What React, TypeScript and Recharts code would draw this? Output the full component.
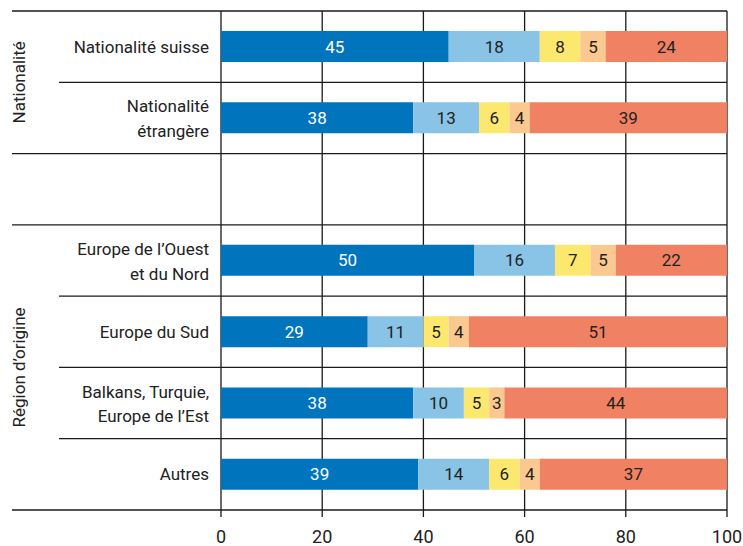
import React from "react";
import { BarChart, Bar, XAxis, YAxis, CartesianGrid, LabelList } from "recharts";

const categories = [
  "Nationalité suisse",
  "Nationalité étrangère",
  "",
  "Europe de l’Ouest et du Nord",
  "Europe du Sud",
  "Balkans, Turquie, Europe de l’Est",
  "Autres",
];
const labelLines: string[][] = [
  ["Nationalité suisse"],
  ["Nationalité", "étrangère"],
  [],
  ["Europe de l’Ouest", "et du Nord"],
  ["Europe du Sud"],
  ["Balkans, Turquie,", "Europe de l’Est "],
  ["Autres"],
];
// group label attached to row whose bottom edge is group centre
const groupLabels = ["Nationalité", "", "", "", "Région d’origine", "", ""];
const groupEnds = [false, true, true, false, false, false, true];
const groupStarts = [true, false, false, false, false, false, false];

const s1 = [45, 38, null, 50, 29, 38, 39];
const s2 = [18, 13, null, 16, 11, 10, 14];
const s3 = [8, 6, null, 7, 5, 5, 6];
const s4 = [5, 4, null, 5, 4, 3, 4];
const s5 = [24, 39, null, 22, 51, 44, 37];
const xTicks = [0, 20, 40, 60, 80, 100];

const colors = ["#0075BE", "#89C3E6", "#FDE86F", "#FBC98F", "#F08263"];
const series = [s1, s2, s3, s4, s5];
const keys = ["a", "b", "c", "d", "e"];

const data = categories.map((name, i) => {
  const row: any = { name: name || "gap" + i };
  keys.forEach((k, j) => {
    row[k] = series[j][i];
  });
  return row;
});

const W = 743;
const H = 546;
const XAXIS_H = 36;
const M = { top: 11, right: 16, bottom: 0, left: 0 };
const FONT = "Roboto, 'DejaVu Sans', sans-serif";
const LINE = "#1a1a1a";

const YTick = (props: any) => {
  const { x, y, payload, index } = props;
  const i = typeof index === "number" ? index : payload.index;
  const half =
    payload && typeof payload.offset === "number" && payload.offset > 0
      ? payload.offset
      : (H - M.top - M.bottom - XAXIS_H) / categories.length / 2;
  const lines = labelLines[i] || [];
  const plotRight = W - M.right;
  const n = lines.length;
  return (
    <g>
      {groupStarts[i] && (
        <line x1={12} x2={plotRight} y1={y - half} y2={y - half} stroke={LINE} strokeWidth={1.3} />
      )}
      <line
        x1={groupEnds[i] ? 12 : 59}
        x2={plotRight}
        y1={y + half}
        y2={y + half}
        stroke={LINE}
        strokeWidth={1.3}
      />
      {lines.map((t, k) => (
        <text
          key={k}
          x={x - 12}
          y={y + (n === 1 ? 0 : k === 0 ? -11.5 : 13)}
          textAnchor="end"
          dominantBaseline="central"
          fontFamily={FONT}
          fontSize={17}
          fill="#222"
        >
          {t}
        </text>
      ))}
      {groupLabels[i] && (
        <text
          x={19}
          y={y + half}
          transform={`rotate(-90 19 ${y + half})`}
          textAnchor="middle"
          dominantBaseline="central"
          fontFamily={FONT}
          fontSize={17}
          fill="#222"
        >
          {groupLabels[i]}
        </text>
      )}
    </g>
  );
};

export default function App() {
  return (
    <div style={{ position: "absolute", left: 0, top: 0, width: W, height: H, background: "#fff" }}>
      <BarChart width={W} height={H} data={data} layout="vertical" margin={M} barSize={31}>
        <CartesianGrid horizontal={false} vertical={true} stroke={LINE} strokeWidth={1.3} />
        <XAxis
          type="number"
          domain={[0, 100]}
          ticks={xTicks}
          height={XAXIS_H}
          axisLine={false}
          tickSize={7}
          tickMargin={13}
          tickLine={{ stroke: LINE, strokeWidth: 1.3 }}
          tick={{ fill: "#222", fontSize: 18, fontFamily: FONT }}
          interval={0}
        />
        <YAxis
          type="category"
          dataKey="name"
          width={221}
          axisLine={false}
          tickLine={false}
          tickSize={0}
          tickMargin={0}
          interval={0}
          tick={<YTick />}
        />
        {keys.map((k, j) => (
          <Bar key={k} dataKey={k} stackId="s" fill={colors[j]} isAnimationActive={false}>
            <LabelList
              dataKey={k}
              position="center"
              fill={j === 0 ? "#fff" : "#222"}
              fontSize={17}
              fontFamily={FONT}
            />
          </Bar>
        ))}
      </BarChart>
    </div>
  );
}
